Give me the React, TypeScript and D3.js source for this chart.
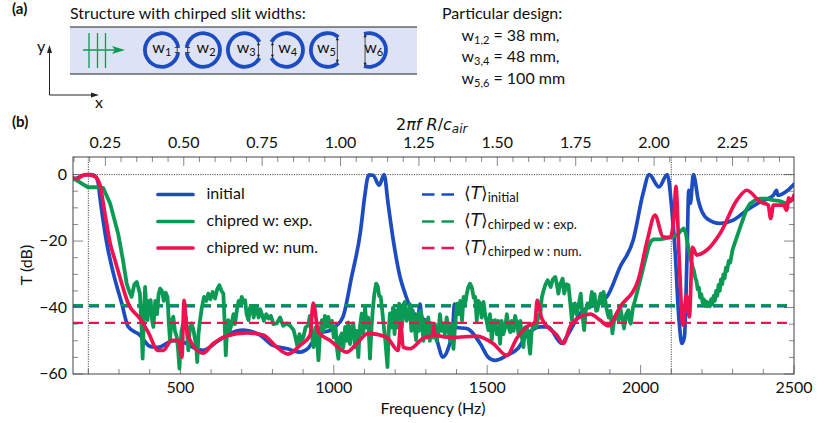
import React from "react";
import * as d3 from "d3";

type Pt = [number, number];

// frequency (Hz), T (dB)
const initialCurve: Pt[] = [
  [150, -1.5], [170, -0.8], [190, -0.1], [210, 0], [222, -0.4], [232, -2.5], [238, -7], [260, -20.6], [281, -29.5], [309, -38.8],
  [330, -45.8], [368, -48.3], [401, -51.7], [427, -52], [476, -50], [509, -50.4], [541, -52], [574, -52.9],
  [619, -50.3], [662, -47.8], [704, -46.8], [760, -48.3], [802, -51.4], [848, -52.4], [890, -53.4], [916, -52.3],
  [933, -50], [960, -47.5], [985, -47], [1004, -45.8], [1030, -42.8], [1058, -30.8], [1086, -17.7], [1102, -5.7], [1110, -1], [1116, -0.1],
  [1128, -0.2], [1148, -3.2], [1164, 0], [1177, -8.7], [1194, -19.8], [1216, -30.8], [1232, -35.7], [1248, -39.7],
  [1275, -42.5], [1281, -39], [1287, -43], [1314, -44.8], [1336, -49.8], [1355, -54.9], [1373, -52.3], [1388, -46], [1393, -39], [1398, -46], [1433, -46.3],
  [1477, -50.8], [1503, -54.9], [1526, -55.9], [1564, -54.4], [1600, -52.3], [1629, -48.3], [1672, -45.8],
  [1698, -45.8], [1743, -50.8], [1759, -48.8], [1803, -41.8], [1890, -36.8], [1933, -27.8], [1976, -19.7],
  [2008, -5.7], [2028, 0], [2060, -3.7], [2087, 0], [2102, -10.7], [2113, -23.7], [2123, -40.8], [2135, -50.8],
  [2143, -48.8], [2151, -25.8], [2157, -4.7], [2162, -8.7], [2172, 0], [2188, -7.7], [2216, -13.2], [2259, -14.7],
  [2302, -13.7], [2346, -10.7], [2390, -8.2], [2433, -6.2], [2443, -4.7], [2447, -6.2], [2477, -4.9], [2500, -2.9],
];

const chirpedExp: Pt[] = [
  [150, -1], [175, -2.5], [199, -3.8], [227, -3.8], [248, -4], [271, -8.7], [297, -17.7], [313, -25.8], [325, -32.8],
  [333, -35], [341, -36.8], [350, -33], [358, -32.3], [368, -35.8], [373, -45], [377, -55.4], [381, -42], [385, -33.8], [389, -40], [393, -43.8], [398, -38], [403, -37.8], [408, -44], [412, -45.8], [418, -38],
  [424, -42], [429, -36], [434, -34.3], [440, -35], [446, -38], [452, -35.5], [458, -36.8], [462, -44], [466, -49.8], [471, -44], [477, -42.8], [482, -47], [488, -48.8], [492, -52], [497, -58.4], [501, -50], [504, -46.8], [511, -44], [518, -42.8],
  [522, -48], [526, -52.9], [531, -46], [537, -44.8], [543, -47], [548, -49.8], [552, -52], [555, -56.4], [559, -48], [564, -43.8], [570, -40], [577, -36.8], [584, -38], [591, -35.8], [598, -37.5], [605, -35.3],
  [613, -37.3], [620, -34.5], [627, -33.3], [634, -35], [640, -35.8], [644, -44], [648, -54.4], [652, -47], [656, -43.8], [661, -47], [667, -44.8], [673, -42], [678, -45], [684, -40.8], [690, -38], [695, -39], [700, -36.8],
  [706, -38.5], [711, -37.8], [716, -42], [722, -43.8], [727, -40], [733, -39.8], [739, -43], [744, -40], [749, -40.3], [755, -43], [760, -40.5], [765, -41.8], [772, -44], [780, -42], [787, -43.3], [795, -42.5], [803, -45], [814, -44.8], [825, -43], [835, -45.5], [847, -44.8],
  [858, -45.5], [869, -46.8], [875, -49], [882, -51.9], [888, -48], [894, -50], [901, -48.8], [908, -46], [917, -45.3], [922, -42.5], [928, -48], [934, -51.9], [940, -46], [945, -49],
  [950, -55.9], [955, -48], [961, -43.8], [966, -47], [971, -42.5], [977, -45.8], [982, -42.8], [988, -46], [994, -44], [1000, -49], [1006, -46], [1010, -52], [1015, -55.4],
  [1020, -49], [1026, -47.8], [1031, -52], [1037, -45.8], [1042, -50], [1047, -44.5], [1053, -51], [1058, -46], [1064, -44.8], [1069, -52], [1074, -47], [1080, -54.9],
  [1085, -46], [1091, -41.8], [1096, -48], [1102, -39.8], [1107, -46], [1112, -43], [1118, -55.4], [1123, -46], [1127, -40.8], [1132, -36], [1138, -32.8], [1143, -33.5],
  [1148, -36.5], [1153, -36.8], [1158, -41], [1162, -44.8], [1168, -50], [1175, -57.9], [1179, -47], [1183, -41.8], [1188, -46], [1193, -40], [1198, -48], [1203, -40.8],
  [1208, -46], [1213, -38.8], [1218, -44], [1222, -45.8], [1227, -39], [1232, -38.3], [1237, -44], [1243, -42.8], [1248, -39], [1253, -47], [1257, -40.8], [1262, -44],
  [1268, -49.8], [1273, -42], [1278, -47], [1283, -41], [1287, -42.8], [1292, -50], [1297, -44], [1303, -48.8], [1308, -43], [1313, -50], [1319, -44.8], [1324, -49],
  [1330, -45], [1335, -50], [1341, -47.8], [1346, -42], [1352, -47], [1357, -44.8], [1362, -48], [1368, -43], [1374, -46.8], [1379, -50], [1384, -45], [1390, -52.4],
  [1395, -46], [1401, -38.8], [1407, -42], [1412, -38], [1418, -44], [1423, -36.8], [1428, -39], [1433, -36], [1438, -34], [1444, -32.8], [1450, -34], [1456, -37],
  [1461, -36.8], [1466, -44], [1471, -38], [1477, -38.8], [1482, -43], [1488, -38.3], [1493, -42], [1498, -44], [1504, -46.8], [1509, -42], [1515, -49.8], [1520, -44],
  [1526, -43.8], [1531, -48], [1536, -44], [1542, -50.9], [1547, -44], [1553, -48], [1559, -45.8], [1564, -42], [1570, -46], [1575, -47.4], [1580, -44], [1586, -47],
  [1591, -42.5], [1597, -44.8], [1602, -48], [1608, -44], [1613, -49], [1618, -51.9], [1623, -46], [1629, -45.8], [1634, -49], [1640, -53.9], [1645, -47], [1653, -44.8],
  [1660, -46], [1667, -42.5], [1673, -41.8], [1678, -37], [1684, -34.8], [1690, -33], [1697, -31.8], [1707, -33.8], [1714, -31.5], [1722, -30.8], [1727, -33], [1732, -35.8], [1738, -33], [1746, -31.3],
  [1751, -35.8], [1758, -33], [1765, -33.3], [1770, -38], [1776, -43.8], [1781, -39], [1786, -38.8], [1791, -42], [1797, -39.8], [1805, -35.8], [1810, -42], [1816, -46.8], [1821, -41], [1827, -38.8],
  [1834, -40], [1841, -35.3], [1846, -39], [1850, -36], [1855, -41], [1859, -40.8], [1865, -38], [1870, -35.8], [1875, -39], [1879, -35.3], [1885, -38], [1890, -40.8], [1896, -43], [1902, -41], [1908, -47.8], [1915, -43], [1922, -41.8],
  [1928, -44], [1933, -39.8], [1940, -43], [1946, -46.3], [1953, -42], [1960, -40.8], [1964, -44], [1968, -44.8], [1975, -40], [1982, -37.8], [2004, -29.8], [2026, -21.7], [2034, -20], [2042, -19.5],
  [2064, -19.5], [2096, -18.9], [2120, -18.2], [2130, -17], [2140, -16.2], [2147, -17.5], [2153, -20.7], [2160, -24], [2170, -28], [2174, -29], [2178, -31], [2182, -32], [2186, -34.5], [2190, -34],
  [2194, -37], [2198, -36], [2202, -38.5], [2206, -37.5], [2210, -39.5], [2214, -38.2], [2218, -39.6], [2222, -38.5], [2226, -39.6], [2230, -37.5], [2234, -39], [2238, -36.5],
  [2242, -38], [2246, -35], [2250, -36.5], [2254, -33.2], [2258, -35], [2262, -31.5], [2266, -33], [2270, -30], [2274, -31.2], [2278, -28], [2282, -29], [2287, -26], [2292, -26.5],
  [2300, -22.5], [2325, -15.7], [2345, -10.5], [2357, -8.7], [2375, -7.6], [2390, -7.2], [2410, -7.2], [2433, -7.7], [2455, -8], [2477, -8.7], [2500, -7.2],
];

const chirpedNum: Pt[] = [
  [150, -1], [165, -1.2], [180, -0.3], [199, 0], [222, -0.6], [238, -3.2], [254, -11.7], [271, -20.6], [287, -25.8], [309, -32.8],
  [330, -38.8], [368, -43.3], [395, -47.4], [427, -52.9], [444, -52.9], [472, -49.9], [493, -49.9], [505, -54.9],
  [512, -37.8], [521, -46.8], [537, -50.8], [574, -53.7], [607, -50.8], [651, -48.6], [716, -47.6], [770, -48.3],
  [814, -51.9], [851, -54], [890, -51.4], [923, -48.3], [933, -38.7], [950, -47.4], [988, -49.9], [1042, -53.4],
  [1075, -50.8], [1112, -47.8], [1172, -48.9], [1210, -52.9], [1218, -44.8], [1226, -51.9], [1248, -52.4], [1291, -49.3],
  [1322, -48.3], [1326, -45.5], [1330, -48.3], [1389, -49], [1466, -48.6], [1519, -50.8], [1564, -54.4], [1596, -49.3], [1629, -45.8],
  [1656, -44.3], [1663, -37.8], [1678, -43.3], [1727, -48.3], [1748, -50.8], [1770, -45.8], [1803, -42.8], [1836, -42],
  [1868, -43.8], [1895, -45.5], [1933, -39.8], [1992, -31.8], [2022, -19.7], [2047, -12.2], [2073, -18.7], [2096, -18.9],
  [2109, -12.7], [2115, -3.5], [2126, -25.8], [2138, -45.3], [2149, -36.3], [2159, -42.8], [2169, -21.9], [2183, -24.2],
  [2216, -22.7], [2259, -17.7], [2314, -7.7], [2346, -4.7], [2390, -8.2], [2416, -9.2], [2424, -13.2], [2433, -9.2],
  [2466, -9.2], [2476, -10.7], [2483, -7], [2490, -8], [2500, -6.2],
];

const meanInitial = -39.6;
const meanExp = -39.3;
const meanNum = -44.6;
const markedFreqs = [200, 2100];

const freqTicksMajor = [500, 1000, 1500, 2000, 2500];
const yTicksMajor = [0, -20, -40, -60];
const kTicksMajor = [0.25, 0.5, 0.75, 1.0, 1.25, 1.5, 1.75, 2.0, 2.25];
const slitHalfWidths = [3, 3, 8, 8, 13, 16];
const slitNames = ["1", "2", "3", "4", "5", "6"];
const slitLabelOffsets = [-9.4, -6.6, -8, -8, -10.7, -5];

const BLUE = "#1c4cc0";
const GREEN = "#0b9a54";
const RED = "#ee1250";
const FONT = "Lato, sans-serif";

const x = d3.scaleLinear().domain([150, 2500]).range([73, 794]);
const y = d3.scaleLinear().domain([5.3, -60]).range([157, 374]);
const kx = d3.scaleLinear().domain([150 / 1022, 2500 / 1022]).range([73, 794]);

const smooth = d3.line<Pt>().x((d) => x(d[0])).y((d) => y(d[1])).curve(d3.curveMonotoneX);
const raw = d3.line<Pt>().x((d) => x(d[0])).y((d) => y(d[1]));

const Ring = ({ cx, half, right, name, dx }: { cx: number; half: number; right: boolean; name: string; dx: number }) => {
  const r = 16.8;
  const a = Math.asin(half / r);
  // d3.arc angles start at 12 o'clock
  const mid = right ? Math.PI / 2 : -Math.PI / 2;
  const d = d3.arc()({
    innerRadius: r - 1.9,
    outerRadius: r + 1.9,
    startAngle: mid + a,
    endAngle: mid + 2 * Math.PI - a,
  })!;
  const gapX = right ? cx + Math.sqrt(r * r - half * half) - 1 : cx - Math.sqrt(r * r - half * half) + 1;
  return (
    <g>
      <path d={d} transform={`translate(${cx},50)`} fill={BLUE} />
      <line x1={gapX} x2={gapX} y1={50 - half + 0.5} y2={50 + half - 0.5} stroke="#222" strokeWidth={0.8} />
      {half < 5 ? (
        <path d={`M${gapX - 2.5},${50 - half + 0.5}h5M${gapX - 2.5},${50 + half - 0.5}h5`} stroke="#222" strokeWidth={0.8} />
      ) : (
        <path
          d={`M${gapX},${50 - half + 0.3}l-1.6,3h3.2zM${gapX},${50 + half - 0.3}l-1.6,-3h3.2z`}
          fill="#222"
        />
      )}
      <text x={cx + dx} y={53} fontSize={16}>
        w<tspan fontSize={11} dy={3}>{name}</tspan>
      </text>
    </g>
  );
};

const MeanLabel = ({ py, sub }: { py: number; sub: string }) => (
  <text x={464} y={py}>
    <tspan fontFamily="'DejaVu Sans'" fontSize={17}>⟨<tspan fontStyle="italic">T</tspan>⟩</tspan>
    <tspan fontSize={13} dy={3}>{sub}</tspan>
  </text>
);

export default function App() {
  const xMinor = d3.range(200, 2501, 100);
  const yMinor = d3.range(0, -61, -5);
  const kMinor = d3.range(0.15, 2.45, 0.05);
  return (
    <svg width={830} height={423} fontFamily={FONT} fill="#111" style={{ position: "absolute", left: 0, top: 0 }}>
      <defs>
        <clipPath id="plot"><rect x={73} y={157} width={721} height={217} /></clipPath>
      </defs>

      {/* panel a */}
      <text x={12} y={14} fontSize={15} fontWeight={700}>(a)</text>
      <text x={70} y={19} fontSize={16}>Structure with chirped slit widths:</text>
      <rect x={70} y={27} width={347} height={47} fill="#dde3f4" />
      <line x1={70} x2={417} y1={27} y2={27} stroke="#222" strokeWidth={1.2} />
      <line x1={70} x2={417} y1={74} y2={74} stroke="#222" strokeWidth={1.2} />
      {[89, 97.5, 105.5].map((px) => (
        <line key={px} x1={px} x2={px} y1={33} y2={68} stroke={GREEN} strokeWidth={1.3} />
      ))}
      <line x1={83} x2={118} y1={50} y2={50} stroke={GREEN} strokeWidth={1.3} />
      <path d="M125,50 L112,46 L115,50 L112,54 Z" fill={GREEN} />
      {slitHalfWidths.map((h, i) => (
        <Ring key={i} cx={161.7 + i * 41.5} half={h} right={i % 2 === 0} name={slitNames[i]} dx={slitLabelOffsets[i]} />
      ))}
      <path d="M49.5,50 V95 H95" fill="none" stroke="#222" strokeWidth={1} />
      <path d="M49.5,45 L47,53 H52 Z M99,95 L91,92.5 V97.5 Z" fill="#222" />
      <text x={37} y={52} fontSize={16}>y</text>
      <text x={95} y={108} fontSize={16}>x</text>

      <text x={442} y={19} fontSize={16}>Particular design:</text>
      <text x={461.5} y={41} fontSize={16}>w<tspan fontSize={11} dy={3}>1,2</tspan><tspan dy={-3}> = 38 mm,</tspan></text>
      <text x={461.5} y={62} fontSize={16}>w<tspan fontSize={11} dy={3}>3,4</tspan><tspan dy={-3}> = 48 mm,</tspan></text>
      <text x={461.5} y={84} fontSize={16}>w<tspan fontSize={11} dy={3}>5,6</tspan><tspan dy={-3}> = 100 mm</tspan></text>

      {/* panel b */}
      <text x={12} y={127} fontSize={15} fontWeight={700}>(b)</text>
      <text x={396} y={130} fontSize={16} fontFamily="'DejaVu Sans'">
        2<tspan fontStyle="italic">πf R</tspan>/<tspan fontStyle="italic">c</tspan>
        <tspan fontSize={12} dy={3} fontStyle="italic">air</tspan>
      </text>

      {/* ticks */}
      <g stroke="#888" strokeWidth={1} fill="none">
        {xMinor.map((t) => {
          const l = freqTicksMajor.includes(t) ? 9 : 5;
          return <line key={t} x1={x(t)} x2={x(t)} y1={374} y2={374 - l} />;
        })}
        {kMinor.map((t, i) => {
          const major = kTicksMajor.some((m) => Math.abs(m - t) < 1e-6);
          return <line key={i} x1={kx(t)} x2={kx(t)} y1={157} y2={157 + (major ? 9 : 5)} />;
        })}
        {yMinor.map((t) => {
          const l = yTicksMajor.includes(t) ? 10 : 5;
          return (
            <g key={t}>
              <line x1={73} x2={73 + l} y1={y(t)} y2={y(t)} />
              <line x1={794} x2={794 - l} y1={y(t)} y2={y(t)} />
            </g>
          );
        })}
      </g>

      {/* reference lines */}
      <line x1={73} x2={794} y1={y(0)} y2={y(0)} stroke="#222" strokeWidth={0.8} strokeDasharray="1.2 1.2" />
      {markedFreqs.map((f) => (
        <line key={f} x1={x(f)} x2={x(f)} y1={157} y2={374} stroke="#222" strokeWidth={0.8} strokeDasharray="1.2 1.2" />
      ))}

      <g clipPath="url(#plot)" fill="none" strokeLinejoin="round" strokeLinecap="round">
        <line x1={x(150)} x2={x(2478)} y1={y(meanInitial)} y2={y(meanInitial)} stroke={BLUE} strokeWidth={2.6} strokeDasharray="10 6" strokeLinecap="butt" />
        <path d={smooth(initialCurve)!} stroke={BLUE} strokeWidth={3.7} />
        <path d={raw(chirpedExp)!} stroke={GREEN} strokeWidth={3.8} />
        <line x1={x(150)} x2={x(2478)} y1={y(meanExp)} y2={y(meanExp)} stroke={GREEN} strokeWidth={2.6} strokeDasharray="10 6" strokeLinecap="butt" />
        <path d={smooth(chirpedNum)!} stroke={RED} strokeWidth={3.7} />
        <line x1={x(150)} x2={x(2478)} y1={y(meanNum)} y2={y(meanNum)} stroke={RED} strokeWidth={2.2} strokeDasharray="10 6" strokeLinecap="butt" />
      </g>

      <rect x={73} y={157} width={721} height={217} fill="none" stroke="#444" strokeWidth={1} />

      {/* tick labels */}
      <g fontSize={16}>
        {freqTicksMajor.map((t) => (
          <text key={t} x={x(t)} y={393} textAnchor="middle">{t}</text>
        ))}
        {kTicksMajor.map((t) => (
          <text key={t} x={kx(t)} y={148} textAnchor="middle">{t.toFixed(2)}</text>
        ))}
        {yTicksMajor.map((t) => (
          <text key={t} x={67} y={y(t) + 5} textAnchor="end">{t === 0 ? "0" : `\u2212${-t}`}</text>
        ))}
      </g>
      <text x={433} y={414} fontSize={16} textAnchor="middle">Frequency (Hz)</text>
      <text transform="translate(32,265) rotate(-90)" fontSize={16} textAnchor="middle">T (dB)</text>

      {/* legend */}
      <g fill="none" strokeWidth={3.7} strokeLinecap="round">
        <line x1={158} x2={193} y1={194.5} y2={194.5} stroke={BLUE} />
        <line x1={158} x2={193} y1={221.5} y2={221.5} stroke={GREEN} />
        <line x1={158} x2={193} y1={248} y2={248} stroke={RED} />
      </g>
      <g fontSize={16}>
        <text x={206.5} y={199}>initial</text>
        <text x={206.5} y={226}>chipred w: exp.</text>
        <text x={206.5} y={253}>chipred w: num.</text>
      </g>
      <g fill="none" strokeWidth={2.4} strokeDasharray="12.5 7">
        <line x1={422} x2={454} y1={194.5} y2={194.5} stroke={BLUE} />
        <line x1={422} x2={454} y1={221.5} y2={221.5} stroke={GREEN} />
        <line x1={422} x2={454} y1={248} y2={248} stroke={RED} />
      </g>
      <g>
        <MeanLabel py={199} sub="initial" />
        <MeanLabel py={226} sub="chirped w : exp." />
        <MeanLabel py={253} sub="chirped w : num." />
      </g>
    </svg>
  );
}
